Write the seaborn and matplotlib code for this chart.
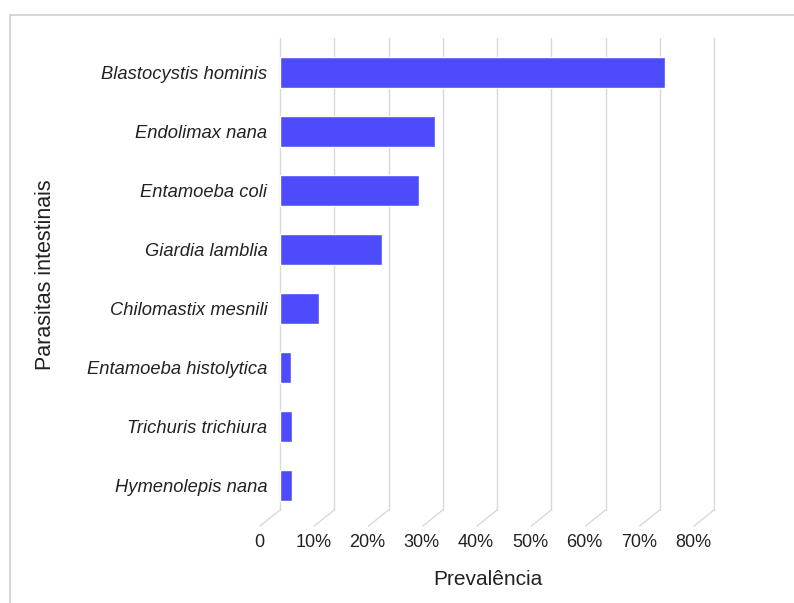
import matplotlib
matplotlib.use("Agg")
import matplotlib.pyplot as plt
import matplotlib.transforms as mtransforms
from matplotlib.patches import Rectangle
import seaborn as sns
import pandas as pd

### data
parasites = ["Blastocystis hominis", "Endolimax nana", "Entamoeba coli", "Giardia lamblia",
             "Chilomastix mesnili", "Entamoeba histolytica", "Trichuris trichiura", "Hymenolepis nana"]
prevalence = [71.0, 28.6, 25.6, 18.8, 7.1, 2.0, 2.3, 2.3]
xTicks = [0, 10, 20, 30, 40, 50, 60, 70, 80]
xTickLabels = ["0", "10%", "20%", "30%", "40%", "50%", "60%", "70%", "80%"]

barColor = "#4c4cfc"
gridColor = "#d9d9d9"
textColor = "#222222"

###
def plotPrevalence():
    sns.set_style("white")
    plt.rcParams['font.family'] = ['Liberation Sans', 'DejaVu Sans']

    df = pd.DataFrame({"parasite": parasites, "prevalence": prevalence})

    fig, ax = plt.subplots(figsize=(7.94, 6.03), dpi=100)
    fig.subplots_adjust(left=280/794, right=714/794, top=1-38/603, bottom=1-510/603)

    sns.barplot(data=df, x="prevalence", y="parasite", orient="h", color=barColor,
                saturation=1, width=0.52, ax=ax, zorder=3)

    ax.set_xlim(0, 80)
    ax.set_ylim(7.42, -0.58)
    ax.set_xticks(xTicks)
    ax.set_xticklabels(xTickLabels, fontsize=13, color=textColor)
    ax.tick_params(axis='x', length=0, pad=17)
    ax.tick_params(axis='y', length=0, pad=9)
    for lbl in ax.get_yticklabels():
        lbl.set_fontstyle("italic")
        lbl.set_fontsize(13.2)
        lbl.set_color(textColor)

    # shift x labels left to sit under the slanted floor lines
    shift = mtransforms.ScaledTranslation(-21/100, 0, fig.dpi_scale_trans)
    for lbl in ax.get_xticklabels():
        lbl.set_transform(lbl.get_transform() + shift)

    for s in ax.spines.values():
        s.set_visible(False)
    ax.xaxis.grid(True, color=gridColor, lw=1)
    for gl in ax.get_xgridlines():
        gl.set_clip_on(False)
    ax.set_axisbelow(True)

    # pseudo 3d floor lines
    blended = mtransforms.blended_transform_factory(ax.transData, ax.transAxes)
    for v in xTicks:
        ax.annotate("", xy=(v, 0), xycoords=blended, xytext=(-20, -16),
                    textcoords='offset pixels', annotation_clip=False,
                    arrowprops=dict(arrowstyle='-', color=gridColor, lw=1,
                                    shrinkA=0, shrinkB=0))

    ax.set_xlabel("Prevalência", fontsize=15, color=textColor)
    ax.set_ylabel("Parasitas intestinais", fontsize=15.5, color=textColor)
    ax.xaxis.set_label_coords(0.48, -0.148)
    ax.yaxis.set_label_coords(-0.541, 0.498)
    ax.xaxis.label.set_verticalalignment("center")
    ax.yaxis.label.set_verticalalignment("center")

    # frame around the figure
    fig.patches.append(Rectangle((10/794, -0.1), 1.2, 1 - 15/603 + 0.1,
                                 transform=fig.transFigure, fill=False,
                                 edgecolor="#d0d0d0", lw=1.2))

    fig.savefig("out.png", dpi=100)


###
if __name__ == '__main__':
    plotPrevalence()
